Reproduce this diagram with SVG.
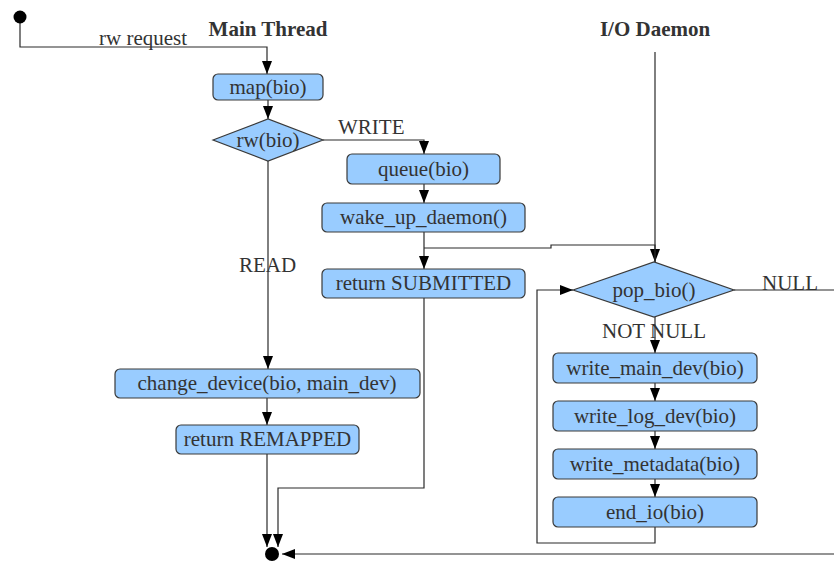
<svg xmlns="http://www.w3.org/2000/svg" width="834" height="561" viewBox="0 0 834 561">
  <style>
    .node { fill: #99ccff; stroke: #3a3a3a; stroke-width: 1.2; }
    .lbl { font-family: "Liberation Serif", "Times New Roman", serif; font-size: 21px; fill: #333333; }
    .title { font-family: "Liberation Serif", "Times New Roman", serif; font-size: 21px; font-weight: bold; fill: #333333; }
    .mid { text-anchor: middle; }
    .edge { fill: none; stroke: #2a2a2a; stroke-width: 1.2; }
    .arrow { marker-end: url(#head); }
  </style>
  <defs>
    <marker id="head" markerUnits="userSpaceOnUse" markerWidth="13" markerHeight="10" refX="13" refY="5" orient="auto">
      <path d="M0,0 L13,5 L0,10 z" fill="#000000"/>
    </marker>
  </defs>

  <rect width="834" height="561" fill="#ffffff"/>

  <!-- swimlane titles -->
  <text class="title mid" x="268" y="36">Main Thread</text>
  <text class="title mid" x="655" y="36">I/O Daemon</text>

  <!-- connectors -->
  <g id="connectors">
    <path class="edge arrow" d="M20,17 V47 H267 V74"/>
    <path class="edge arrow" d="M268,100 V119"/>
    <path class="edge arrow" d="M323,140 H424 V154"/>
    <path class="edge arrow" d="M424,184 V203"/>
    <path class="edge arrow" d="M424,232 V269"/>
    <path class="edge arrow" d="M424,248 H551 V245 H655 V262"/>
    <path class="edge" d="M655,52 V262"/>
    <path class="edge arrow" d="M268,161 V369"/>
    <path class="edge arrow" d="M267,398 V425"/>
    <path class="edge arrow" d="M267,454 V547"/>
    <path class="edge arrow" d="M424,298 V488 H278 V547"/>
    <path class="edge" d="M734,290 H834"/>
    <path class="edge arrow" d="M834,554 H282"/>
    <path class="edge arrow" d="M655,317 V353"/>
    <path class="edge arrow" d="M655,383 V401"/>
    <path class="edge arrow" d="M655,431 V449"/>
    <path class="edge arrow" d="M655,479 V497"/>
    <path class="edge arrow" d="M655,527 V543 H537 V290 H573"/>
    <text class="lbl" x="99" y="45">rw request</text>
    <text class="lbl" x="338" y="134">WRITE</text>
    <text class="lbl" x="239" y="272">READ</text>
    <text class="lbl" x="762" y="290">NULL</text>
    <text class="lbl" x="602" y="338">NOT NULL</text>
  </g>

  <!-- start / end points -->
  <g id="start"><circle cx="20" cy="17" r="6.5" fill="#000000"/></g>
  <g id="end"><circle cx="272" cy="554" r="7" fill="#000000"/></g>

  <!-- main thread -->
  <g id="map">
    <rect class="node" x="213" y="74" width="110" height="26" rx="5"/>
    <text class="lbl mid" x="268" y="94">map(bio)</text>
  </g>
  <g id="rw">
    <polygon class="node" points="213,140 268,119 323,140 268,161"/>
    <text class="lbl mid" x="268" y="147">rw(bio)</text>
  </g>
  <g id="queue">
    <rect class="node" x="347" y="154" width="153" height="30" rx="5"/>
    <text class="lbl mid" x="423.5" y="176">queue(bio)</text>
  </g>
  <g id="wake">
    <rect class="node" x="322" y="203" width="203" height="29" rx="5"/>
    <text class="lbl mid" x="423.5" y="224">wake_up_daemon()</text>
  </g>
  <g id="submitted">
    <rect class="node" x="322" y="269" width="203" height="29" rx="5"/>
    <text class="lbl mid" x="423.5" y="290">return SUBMITTED</text>
  </g>
  <g id="change">
    <rect class="node" x="115" y="369" width="305" height="29" rx="5"/>
    <text class="lbl mid" x="267" y="390">change_device(bio, main_dev)</text>
  </g>
  <g id="remapped">
    <rect class="node" x="176" y="425" width="183" height="29" rx="5"/>
    <text class="lbl mid" x="267.5" y="446">return REMAPPED</text>
  </g>

  <!-- I/O daemon -->
  <g id="pop">
    <polygon class="node" points="573,290 654,262 734,290 654,317"/>
    <text class="lbl mid" x="654" y="297">pop_bio()</text>
  </g>
  <g id="write_main">
    <rect class="node" x="553" y="353" width="204" height="30" rx="5"/>
    <text class="lbl mid" x="655" y="375">write_main_dev(bio)</text>
  </g>
  <g id="write_log">
    <rect class="node" x="553" y="401" width="204" height="30" rx="5"/>
    <text class="lbl mid" x="655" y="423">write_log_dev(bio)</text>
  </g>
  <g id="write_meta">
    <rect class="node" x="553" y="449" width="204" height="30" rx="5"/>
    <text class="lbl mid" x="655" y="471">write_metadata(bio)</text>
  </g>
  <g id="end_io">
    <rect class="node" x="553" y="497" width="204" height="30" rx="5"/>
    <text class="lbl mid" x="655" y="519">end_io(bio)</text>
  </g>
</svg>
